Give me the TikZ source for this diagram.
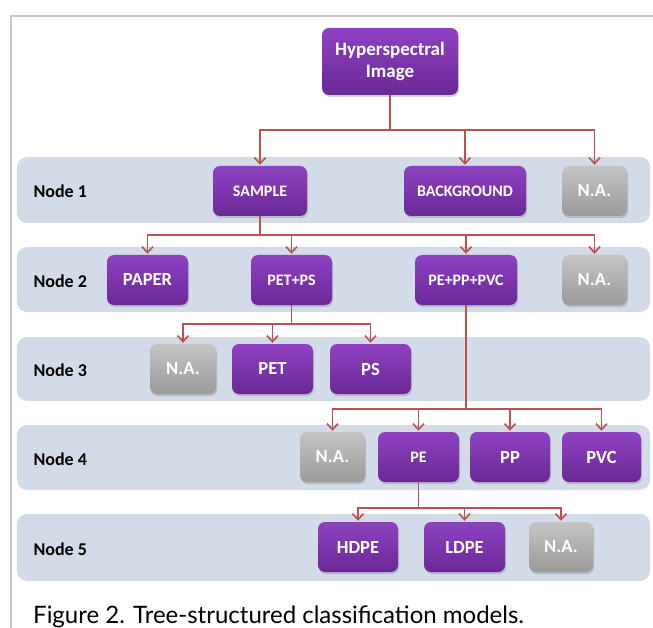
\documentclass[tikz,border=0pt]{standalone}
\usepackage{fontspec}
\newfontfamily\carlito{Carlito}
\newfontfamily\lato{Lato}
\usetikzlibrary{arrows.meta,shadows}
\definecolor{bandblue}{HTML}{D3DAE8}
\definecolor{purpTop}{HTML}{8E42C2}
\definecolor{purpBot}{HTML}{6A2896}
\definecolor{naTop}{HTML}{C4C4C4}
\definecolor{naBot}{HTML}{9A9A9A}
\definecolor{linkred}{HTML}{C0504D}
\definecolor{framegray}{HTML}{C8C8C8}
\tikzset{
  cls/.style={rounded corners=7pt, minimum height=50pt, inner sep=2pt,
    text=white, font=\carlito\bfseries\fontsize{16}{18}\selectfont,
    top color=purpTop, bottom color=purpBot,
    drop shadow={shadow xshift=1pt, shadow yshift=-2pt, opacity=0.35}},
  big/.style={font=\carlito\bfseries\fontsize{18.5}{20}\selectfont},
  na/.style={cls, big, top color=naTop, bottom color=naBot},
  band/.style={fill=bandblue, rounded corners=10pt},
  lvl/.style={anchor=west, font=\carlito\bfseries\fontsize{18}{20}\selectfont},
  link/.style={draw=linkred, line width=1.8pt, shorten >=1pt,
    -{Straight Barb[length=6pt,width=11pt,line width=1.6pt]}}
}
\begin{document}
\begin{tikzpicture}[x=1pt,y=-1pt]
  \useasboundingbox (0,0) rectangle (653,628);
  \draw[framegray, line width=2pt] (11,628) -- (11,16) -- (653,16);

  % level bands
  \fill[band] (17,157) rectangle (650,223);
  \fill[band] (17,247) rectangle (650,312);
  \fill[band] (17,337) rectangle (650,401);
  \fill[band] (17,425) rectangle (650,490);
  \fill[band] (17,514) rectangle (650,581);

  \node[lvl] (l1) at (30,191) {Node 1};
  \node[lvl] (l2) at (30,281) {Node 2};
  \node[lvl] (l3) at (30,370) {Node 3};
  \node[lvl] (l4) at (30,459) {Node 4};
  \node[lvl] (l5) at (30,549) {Node 5};

  % root
  \node[cls, minimum width=136pt, minimum height=67pt, align=center,
        font=\carlito\bfseries\fontsize{19}{22}\selectfont]
        (img) at (390,61.5) {Hyperspectral\\Image};

  % node 1
  \node[cls, minimum width=94pt]  (sample) at (260,191) {SAMPLE};
  \node[cls, minimum width=122pt] (bgnd)   at (465,191) {BACKGROUND};
  \node[na,  minimum width=65pt]  (na1)    at (594.5,191) {N.A.};

  % node 2
  \node[cls, big, minimum width=81pt] (paper) at (147.5,280) {PAPER};
  \node[cls, minimum width=81pt]  (petps)  at (291.5,280) {PET+PS};
  \node[cls, minimum width=102pt] (pepp)   at (466,280) {PE+PP+PVC};
  \node[na,  minimum width=65pt]  (na2)    at (594.5,280) {N.A.};

  % node 3
  \node[na,  minimum width=66pt]  (na3)    at (183,369) {N.A.};
  \node[cls, big, minimum width=81pt] (pet) at (272.5,369) {PET};
  \node[cls, big, minimum width=81pt] (ps)  at (370.5,369) {PS};

  % node 4
  \node[na,  minimum width=65pt]  (na4)    at (332.5,457) {N.A.};
  \node[cls, minimum width=81pt]  (pe)     at (418.5,457) {PE};
  \node[cls, big, minimum width=80pt] (pp)  at (510,457) {PP};
  \node[cls, big, minimum width=79pt] (pvc) at (601.5,457) {PVC};

  % node 5
  \node[cls, big, minimum width=80pt] (hdpe) at (358,547) {HDPE};
  \node[cls, big, minimum width=81pt] (ldpe) at (464.5,547) {LDPE};
  \node[na,  minimum width=64pt]  (na5)    at (561,547) {N.A.};

  % connectors
  \foreach \c in {sample,bgnd,na1}
    \draw[link] (img.south) -- ++(0,35) -| (\c.north);
  \foreach \c in {paper,petps,pepp,na2}
    \draw[link] (sample.south) -- ++(0,19) -| (\c.north);
  \foreach \c in {na3,pet,ps}
    \draw[link] (petps.south) -- ++(0,19) -| (\c.north);
  \foreach \c in {na4,pe,pp,pvc}
    \draw[link] (pepp.south) -- ++(0,104) -| (\c.north);
  \foreach \c in {hdpe,ldpe,na5}
    \draw[link] (pe.south) -- ++(0,26) -| (\c.north);

  \node[anchor=base west, inner sep=0pt, font=\lato\fontsize{24}{28}\selectfont]
    (cap) at (33,623) {Figure 2. Tree-structured classification models.};
\end{tikzpicture}
\end{document}
